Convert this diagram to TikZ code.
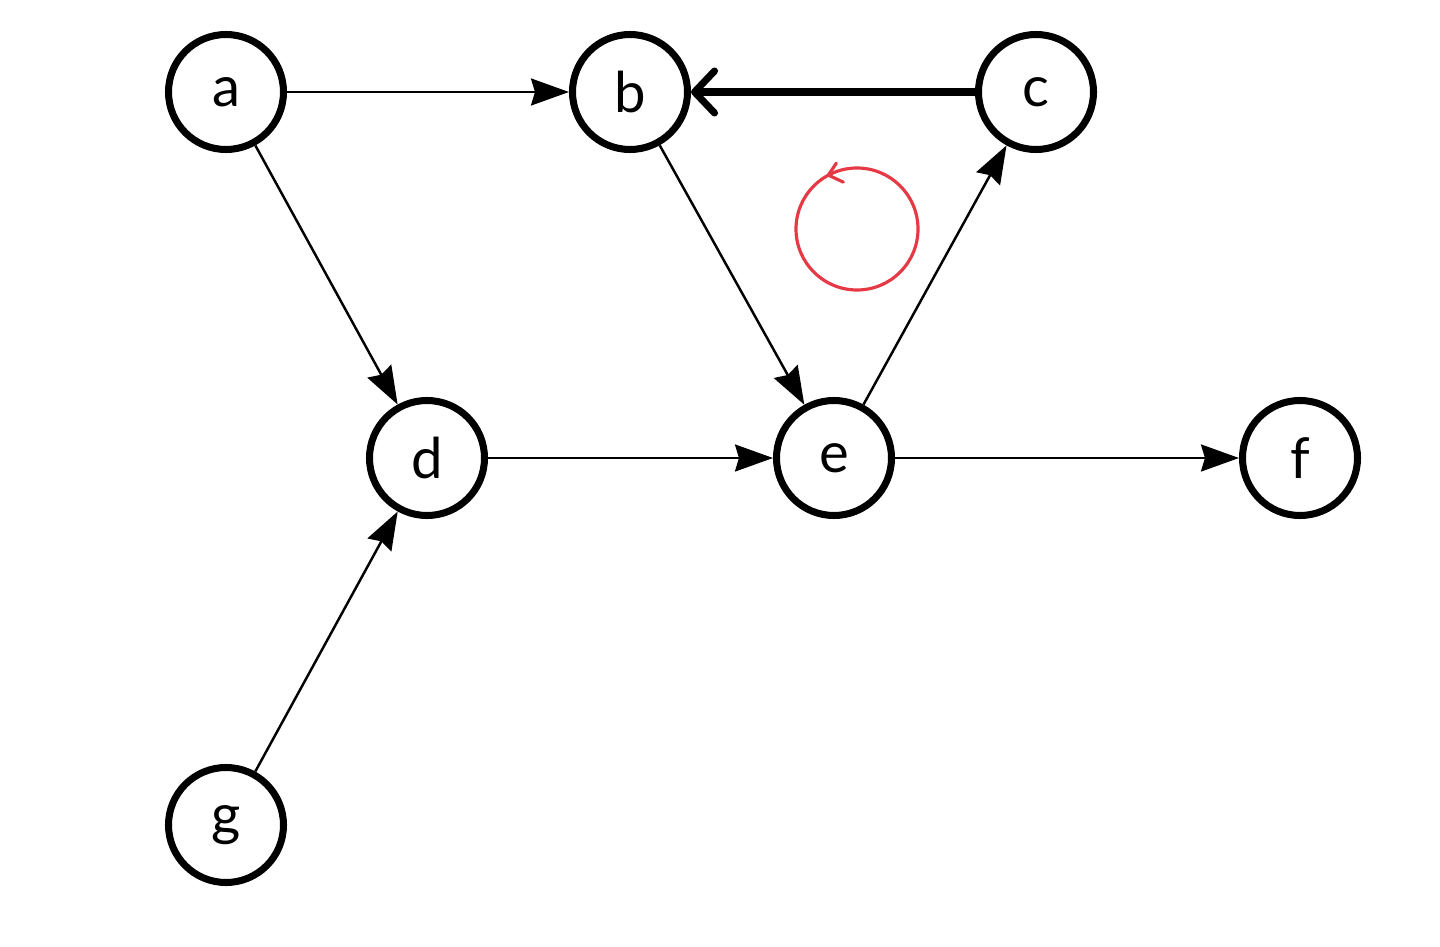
\documentclass[tikz,border=0pt]{standalone}
\usepackage{fontspec}
\setmainfont{Lato}
\usepackage{xcolor}
\usetikzlibrary{arrows.meta,positioning}
\definecolor{loopred}{HTML}{E53945}

\begin{document}
\begin{tikzpicture}[
    vert/.style={draw, circle, line width=2pt, minimum size=1.15cm, inner sep=0pt, font=\fontsize{16}{16}\selectfont},
    arc/.style={line width=0.7pt, -{Stealth[length=0.38cm, width=0.27cm, inset=0.04cm]}},
    heavy/.style={line width=2pt, -{Straight Barb[round, length=0.2cm, width=0.42cm]}},
    orient/.style={loopred, line width=0.9pt, line cap=round, line join=round}
  ]
    \useasboundingbox (0,0) rectangle (14.4,9.46);
    \node[vert] (a) at (2.26,8.54) {a};
    \node[vert] (b) at (6.30,8.54) {b};
    \node[vert] (c) at (10.36,8.54) {c};
    \node[vert] (d) at (4.27,4.88) {d};
    \node[vert] (e) at (8.34,4.88) {e};
    \node[vert] (f) at (13.00,4.88) {f};
    \node[vert] (g) at (2.26,1.21) {g};
    \draw[arc] (a) -- (b);
    \draw[heavy] (c) -- (b);
    \draw[arc] (a) -- (d);
    \draw[arc] (b) -- (e);
    \draw[arc] (e) -- (c);
    \draw[arc] (d) -- (e);
    \draw[arc] (e) -- (f);
    \draw[arc] (g) -- (d);
    % orientation of the cycle b-e-c
    \coordinate (cyc) at (8.57,7.17);
    \coordinate (tip) at ([shift={(118:0.61)}]cyc);
    \draw[orient] (cyc) circle[radius=0.61];
    \draw[orient] ([shift={(0.08,0.12)}]tip) -- (tip) -- ([shift={(0.15,-0.07)}]tip);
  \end{tikzpicture}
\end{document}
